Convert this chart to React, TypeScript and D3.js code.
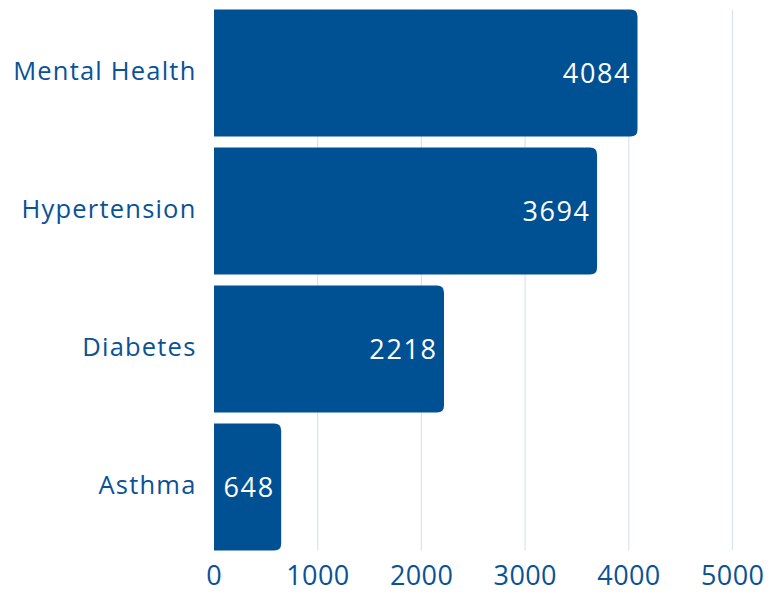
import React from "react";
import * as d3 from "d3";

const categories = ["Mental Health", "Hypertension", "Diabetes", "Asthma"];
const values = [4084, 3694, 2218, 648];
const xTicks = [0, 1000, 2000, 3000, 4000, 5000];

const W = 772;
const H = 597;
const BAR = "#005193";
const TEXT = "#0a5296";
const GRID = "#dbe3ee";
const FONT = "'Open Sans', sans-serif";

function barPath(x0: number, y0: number, w: number, h: number, r: number) {
  const rr = Math.min(r, w, h / 2);
  return `M${x0},${y0}H${x0 + w - rr}Q${x0 + w},${y0} ${x0 + w},${y0 + rr}V${y0 + h - rr}Q${x0 + w},${y0 + h} ${x0 + w - rr},${y0 + h}H${x0}Z`;
}

export default function App() {
  const x = d3.scaleLinear().domain([0, 5000]).range([214, 732.5]);
  const y = d3
    .scaleBand<string>()
    .domain(categories)
    .range([9.5, 550.5])
    .paddingInner(0.08)
    .paddingOuter(0);

  return (
    <svg width={W} height={H} style={{ position: "absolute", left: 0, top: 0 }}>
      <rect width={W} height={H} fill="#ffffff" />
      {xTicks.slice(1).map((t) => (
        <line key={t} x1={x(t)} x2={x(t)} y1={9.5} y2={550.5} stroke={GRID} strokeWidth={1.2} />
      ))}
      {categories.map((c, i) => {
        const y0 = y(c)!;
        const bw = y.bandwidth();
        const xe = x(values[i]);
        return (
          <g key={c}>
            <path d={barPath(x(0), y0, xe - x(0), bw, 7)} fill={BAR} />
            <text
              x={xe - 6.5}
              y={y0 + bw / 2}
              dy="0.36em"
              textAnchor="end"
              fill="#ffffff"
              fontFamily={FONT}
              fontSize={27}
              letterSpacing={1.6}
            >
              {values[i]}
            </text>
            <text
              x={196.5}
              y={y0 + bw / 2}
              dy="0.27em"
              textAnchor="end"
              fill={TEXT}
              fontFamily={FONT}
              fontSize={25.5}
              letterSpacing={1.2}
            >
              {c}
            </text>
          </g>
        );
      })}
      {xTicks.map((t) => (
        <text
          key={t}
          x={x(t) + 0.2}
          y={585}
          textAnchor="middle"
          fill={TEXT}
          fontFamily={FONT}
          fontSize={27}
          letterSpacing={0.4}
        >
          {t}
        </text>
      ))}
    </svg>
  );
}
